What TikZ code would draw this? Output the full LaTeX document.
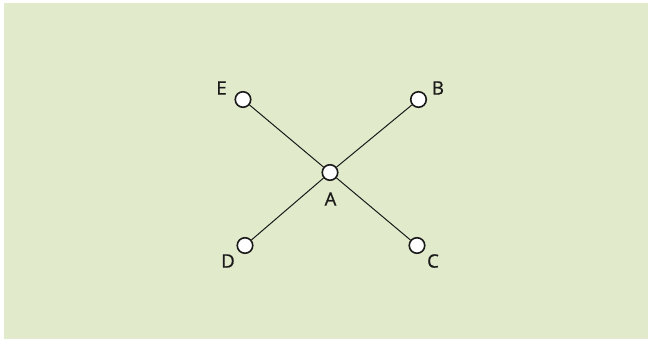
\documentclass[tikz,border=0pt]{standalone}
\usepackage{fontspec}
\setmainfont{Open Sans}
\newfontfamily\lblfont{Open Sans}[FakeBold=0.9]
\usepackage{tikz}
\usetikzlibrary{positioning}
\definecolor{sage}{HTML}{E1EBCB}
\definecolor{ink}{HTML}{1A1A1A}

\begin{document}
\begin{tikzpicture}[
  x=1pt, y=-1pt,
  font=\lblfont\fontsize{18.5}{20}\selectfont,
  vert/.style={circle, draw=ink, line width=1.6pt, fill=white,
               minimum size=15.5pt, inner sep=0pt},
  lbl/.style={text=ink, inner sep=1pt},
  edge/.style={draw=ink, line width=1pt}
]

\useasboundingbox (0,0) rectangle (648,339);
\fill[sage] (4,3) rectangle (648,339);

% ---- vertices -----------------------------------------------------------
\node[vert] (a) at (330, 172.5) {};
\node[vert] (b) at (418.5, 99.5) {};
\node[vert] (c) at (417, 245.5) {};
\node[vert] (d) at (245, 245.5) {};
\node[vert] (e) at (243, 99.5)  {};

% ---- labels -------------------------------------------------------------
\node[lbl] (la) at (330.5, 199) {A};
\node[lbl] (lb) at (438, 88)    {B};
\node[lbl] (lc) at (433, 261)   {C};
\node[lbl] (ld) at (228, 261)   {D};
\node[lbl] (le) at (221.5, 88)  {E};

% ---- edges --------------------------------------------------------------
\draw[edge] (e) -- (a);
\draw[edge] (a) -- (c);
\draw[edge] (d) -- (a);
\draw[edge] (a) -- (b);

\end{tikzpicture}
\end{document}
